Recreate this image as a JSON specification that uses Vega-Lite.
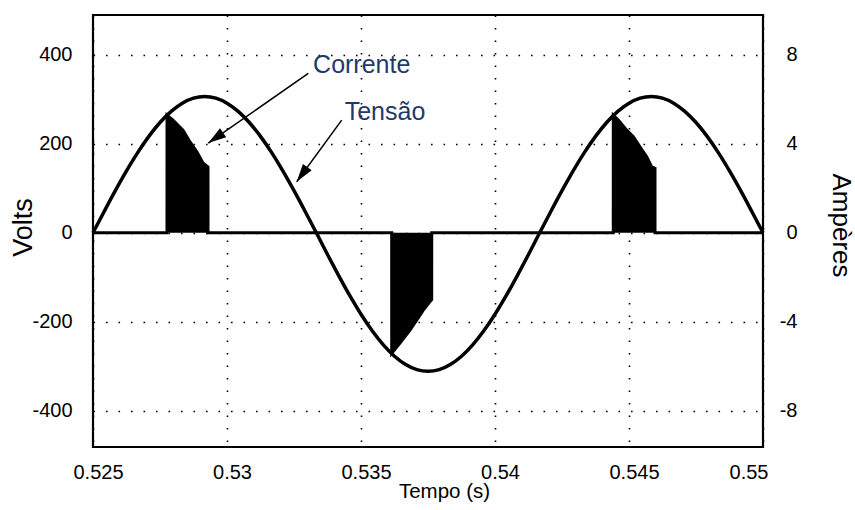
{
  "$schema": "https://vega.github.io/schema/vega-lite/v6.json",
  "width": 670,
  "height": 432,
  "autosize": {"type": "none"},
  "padding": {"left": 93, "top": 15, "right": 92, "bottom": 63},
  "background": "white",
  "config": {
    "font": "Liberation Sans",
    "view": {"stroke": "black", "strokeWidth": 2.2},
    "axis": {
      "labelColor": "black",
      "titleColor": "black",
      "titleFontWeight": "normal",
      "labelFontSize": 20,
      "titleFontSize": 20.5,
      "ticks": false,
      "domain": false,
      "gridColor": "black",
      "gridOpacity": 1,
      "gridWidth": 1.6,
      "gridDash": [1.6, 10.9]
    }
  },
  "datasets": {
    "tensao": [
      {"t": 0.525, "v": 0}, {"t": 0.525417, "v": 47.9}, {"t": 0.525833, "v": 94.6},
      {"t": 0.52625, "v": 138.9}, {"t": 0.526667, "v": 179.9}, {"t": 0.527083, "v": 216.4},
      {"t": 0.5275, "v": 247.6}, {"t": 0.527917, "v": 272.6}, {"t": 0.528333, "v": 291.0},
      {"t": 0.52875, "v": 302.2}, {"t": 0.529167, "v": 306}, {"t": 0.529583, "v": 302.2},
      {"t": 0.53, "v": 291.0}, {"t": 0.530417, "v": 272.6}, {"t": 0.530833, "v": 247.6},
      {"t": 0.53125, "v": 216.4}, {"t": 0.531667, "v": 179.9}, {"t": 0.532083, "v": 138.9},
      {"t": 0.5325, "v": 94.6}, {"t": 0.532917, "v": 47.9}, {"t": 0.533333, "v": 0},
      {"t": 0.53375, "v": -48.7}, {"t": 0.534167, "v": -96.1}, {"t": 0.534583, "v": -141.2},
      {"t": 0.535, "v": -182.8}, {"t": 0.535417, "v": -219.9}, {"t": 0.535833, "v": -251.6},
      {"t": 0.53625, "v": -277.1}, {"t": 0.536667, "v": -295.8}, {"t": 0.537083, "v": -307.2},
      {"t": 0.5375, "v": -311}, {"t": 0.537917, "v": -307.2}, {"t": 0.538333, "v": -295.8},
      {"t": 0.53875, "v": -277.1}, {"t": 0.539167, "v": -251.6}, {"t": 0.539583, "v": -219.9},
      {"t": 0.54, "v": -182.8}, {"t": 0.540417, "v": -141.2}, {"t": 0.540833, "v": -96.1},
      {"t": 0.54125, "v": -48.7}, {"t": 0.541667, "v": 0}, {"t": 0.542083, "v": 47.9},
      {"t": 0.5425, "v": 94.6}, {"t": 0.542917, "v": 138.9}, {"t": 0.543333, "v": 179.9},
      {"t": 0.54375, "v": 216.4}, {"t": 0.544167, "v": 247.6}, {"t": 0.544583, "v": 272.6},
      {"t": 0.545, "v": 291.0}, {"t": 0.545417, "v": 302.2}, {"t": 0.545833, "v": 306},
      {"t": 0.54625, "v": 302.2}, {"t": 0.546667, "v": 291.0}, {"t": 0.547083, "v": 272.6},
      {"t": 0.5475, "v": 247.6}, {"t": 0.547917, "v": 216.4}, {"t": 0.548333, "v": 179.9},
      {"t": 0.54875, "v": 138.9}, {"t": 0.549167, "v": 94.6}, {"t": 0.549583, "v": 47.9},
      {"t": 0.55, "v": 0}
    ],
    "corrente": [
      {"t": 0.525, "i": 0}, {"t": 0.527761, "i": 0},
      {"t": 0.527762, "i": 5.28}, {"t": 0.527985, "i": 5.06}, {"t": 0.528358, "i": 4.61},
      {"t": 0.528619, "i": 4.08}, {"t": 0.528881, "i": 3.63}, {"t": 0.529104, "i": 3.14},
      {"t": 0.529291, "i": 2.96}, {"t": 0.529292, "i": 0},
      {"t": 0.536145, "i": 0},
      {"t": 0.536146, "i": -5.41}, {"t": 0.536455, "i": -4.95}, {"t": 0.536828, "i": -4.37},
      {"t": 0.537078, "i": -3.92}, {"t": 0.537325, "i": -3.47}, {"t": 0.537575, "i": -3.09},
      {"t": 0.537638, "i": -3.0}, {"t": 0.537639, "i": 0},
      {"t": 0.544413, "i": 0},
      {"t": 0.544414, "i": 5.28}, {"t": 0.544601, "i": 5.06}, {"t": 0.544914, "i": 4.61},
      {"t": 0.545161, "i": 4.31}, {"t": 0.54541, "i": 3.86}, {"t": 0.545661, "i": 3.41},
      {"t": 0.545847, "i": 2.96}, {"t": 0.54597, "i": 2.9}, {"t": 0.545971, "i": 0},
      {"t": 0.55, "i": 0}
    ],
    "rotulos": [
      {"label": "Corrente", "t": 0.535026, "v": 376.5},
      {"label": "Tensão", "t": 0.535896, "v": 271.6}
    ],
    "setas": [
      {"label": "Corrente", "t0": 0.533034, "v0": 357.8, "t1": 0.529302, "v1": 201.4},
      {"label": "Tensão", "t0": 0.53428, "v0": 253.0, "t1": 0.532601, "v1": 114.6}
    ]
  },
  "layer": [
    {
      "layer": [
        {
          "data": {"name": "corrente"},
          "mark": {"type": "area", "color": "black", "interpolate": "linear"},
          "encoding": {
            "x": {
              "field": "t", "type": "quantitative",
              "scale": {"domain": [0.525, 0.55], "nice": false, "zero": false},
              "axis": {
                "values": [0.525, 0.53, 0.535, 0.54, 0.545, 0.55],
                "format": "~g",
                "grid": true,
                "labelPadding": 15,
                "labelOffset": 5,
                "labelAlign": {"condition": {"test": "datum.value > 0.549", "value": "right"}, "value": "center"},
                "title": "Tempo (s)",
                "titleX": 351,
                "titleY": 44,
                "titleBaseline": "middle"
              }
            },
            "y": {
              "field": "i", "type": "quantitative",
              "scale": {"domain": [-9.62, 9.78], "nice": false, "zero": false},
              "axis": {
                "orient": "right",
                "values": [-8, -4, 0, 4, 8],
                "labelExpr": "datum.value < 0 ? '-' + abs(datum.value) : '' + datum.value",
                "grid": false,
                "labelAlign": "right",
                "labelPadding": 34,
                "title": "Ampères",
                "titleFontSize": 26,
                "titleAngle": 90,
                "titleX": 77,
                "titleY": 210,
                "titleBaseline": "middle"
              }
            }
          }
        },
        {
          "data": {"name": "corrente"},
          "mark": {"type": "line", "color": "black", "strokeWidth": 3, "interpolate": "linear"},
          "encoding": {
            "x": {"field": "t", "type": "quantitative"},
            "y": {"field": "i", "type": "quantitative"}
          }
        }
      ]
    },
    {
      "layer": [
        {
          "data": {"name": "tensao"},
          "mark": {"type": "line", "color": "black", "strokeWidth": 3.5, "interpolate": "monotone"},
          "encoding": {
            "x": {"field": "t", "type": "quantitative"},
            "y": {
              "field": "v", "type": "quantitative",
              "scale": {"domain": [-481, 489], "nice": false, "zero": false},
              "axis": {
                "orient": "left",
                "values": [-400, -200, 0, 200, 400],
                "labelExpr": "datum.value < 0 ? '-' + abs(datum.value) : '' + datum.value",
                "grid": true,
                "labelPadding": 21,
                "title": "Volts",
                "titleFontSize": 27,
                "titleAngle": -90,
                "titleX": -70,
                "titleY": 212,
                "titleBaseline": "middle"
              }
            }
          }
        },
        {
          "data": {"name": "setas"},
          "mark": {"type": "rule", "color": "black", "strokeWidth": 1.5},
          "encoding": {
            "x": {"field": "t0", "type": "quantitative"},
            "y": {"field": "v0", "type": "quantitative"},
            "x2": {"field": "t1"},
            "y2": {"field": "v1"}
          }
        },
        {
          "data": {"name": "setas"},
          "mark": {
            "type": "point",
            "shape": "M0,0L0.3,1L-0.3,1Z",
            "filled": true,
            "color": "black",
            "opacity": 1,
            "size": 1300
          },
          "encoding": {
            "x": {"field": "t1", "type": "quantitative"},
            "y": {"field": "v1", "type": "quantitative"},
            "angle": {"condition": {"test": "datum.label === 'Corrente'", "value": 235}, "value": 216}
          }
        },
        {
          "data": {"name": "rotulos"},
          "mark": {"type": "text", "fontSize": 25, "color": "#1f3a68", "align": "center", "baseline": "middle"},
          "encoding": {
            "x": {"field": "t", "type": "quantitative"},
            "y": {"field": "v", "type": "quantitative"},
            "text": {"field": "label"}
          }
        }
      ]
    }
  ],
  "resolve": {"scale": {"y": "independent"}, "axis": {"y": "independent"}}
}
